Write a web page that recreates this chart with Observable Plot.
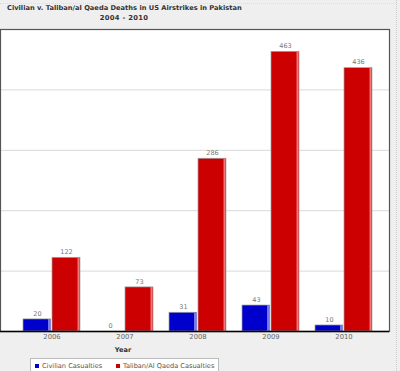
<!DOCTYPE html>
<html><head><meta charset="utf-8">
<script src="https://cdn.jsdelivr.net/npm/d3@7"></script>
<script src="https://cdn.jsdelivr.net/npm/@observablehq/plot@0.6"></script>
<style>
body{margin:0;background:#efefef;font-family:"DejaVu Sans",Verdana,sans-serif}
#wrap{position:relative;width:400px;height:371px;overflow:hidden;background:#efefef}
#wrap svg{position:absolute;left:0;top:0}
.t{position:absolute;white-space:nowrap;color:#333;font-weight:bold}
#title{left:7px;top:4px;font-size:6.7px}
#sub{left:0;width:248px;text-align:center;top:14px;font-size:6.8px;letter-spacing:0.3px}
#xlab{left:0;width:246px;text-align:center;top:346px;font-size:6.6px}
#legend{position:absolute;left:30px;top:358px;width:187px;height:20px;background:#fff;border:1px solid #bbb;font-size:6.6px;color:#555;white-space:nowrap}
#legend span.sw{display:inline-block;width:4px;height:4px;margin:0 3px 0 4px;vertical-align:0px}
#legend span.it{position:absolute;top:3px}
#dots{position:absolute;left:396px;top:0;width:0;height:371px;border-left:1px dotted #ccc}
#dotsT{position:absolute;left:0;top:3px;width:396px;height:0;border-top:1px dotted #ddd}
</style></head>
<body><div id="wrap"></div>
<script>
const years = ["2006","2007","2008","2009","2010"];
const civilian = [20, 0, 31, 43, 10];
const taliban = [122, 73, 286, 463, 436];
const gridValues = [100, 200, 300, 400, 500];
const seriesNames = ["Civilian Casualties", "Taliban/Al Qaeda Casualties"];
const seriesColors = ["#0000cc", "#cc0000"];
const titleText = "Civilian v. Taliban/al Qaeda Deaths in US Airstrikes in Pakistan";
const subtitleText = "2004 - 2010";
const xLabel = "Year";

const civData = years.map((y, i) => ({year: y, value: civilian[i]}));
const talData = years.map((y, i) => ({year: y, value: taliban[i]}));

const plot = Plot.plot({
  width: 400, height: 371,
  marginTop: 29, marginBottom: 40, marginLeft: 0, marginRight: 11,
  style: {background: "transparent", fontFamily: "DejaVu Sans, Verdana, sans-serif"},
  x: {type: "band", domain: years, paddingInner: 0.224, paddingOuter: 0.258, align: 0.579, axis: null},
  y: {domain: [0, 500], axis: null},
  marks: [
    Plot.frame({fill: "white", stroke: "none"}),
    Plot.ruleY(gridValues, {stroke: "#d9d9d9", strokeWidth: 1}),
    Plot.barY(civData, {x: "year", y: "value", fill: seriesColors[0], insetRight: 29.5, stroke: "#a0a0a0", strokeWidth: 0.7}),
    Plot.barY(civData, {x: "year", y: "value", fill: "#7777ee", insetLeft: 25, insetRight: 29.5}),
    Plot.barY(talData, {x: "year", y: "value", fill: seriesColors[1], insetLeft: 29, stroke: "#a0a0a0", strokeWidth: 0.7}),
    Plot.barY(talData, {x: "year", y: "value", fill: "#ee7777", insetLeft: 54.5, insetRight: 0.5}),
    Plot.frame({stroke: "#555", strokeWidth: 1.2}),
    Plot.ruleY([0], {stroke: "#000", strokeWidth: 1.5}),
    Plot.text(civData, {x: "year", y: "value", text: d => String(d.value), dx: -14.5, dy: -6, fill: "#777", fontSize: 6.5}),
    Plot.text(talData, {x: "year", y: "value", text: d => String(d.value), dx: 14.5, dy: -6, fill: "#777", fontSize: 6.5}),
    Plot.text(years, {x: d => d, frameAnchor: "bottom", dy: 7.5, fill: "#666", fontSize: 6.8})
  ]
});

const wrap = document.getElementById("wrap");
wrap.appendChild(plot);
const add = (id, cls, txt) => { const d = document.createElement("div"); d.id = id; if (cls) d.className = cls; if (txt) d.textContent = txt; wrap.appendChild(d); return d; };
add("dotsT"); add("dots");
add("title", "t", titleText);
add("sub", "t", subtitleText);
add("xlab", "t", xLabel);
const lg = add("legend");
const lefts = [0, 81];
seriesNames.forEach((n, i) => {
  const it = document.createElement("span"); it.className = "it"; it.style.left = lefts[i] + "px";
  const sw = document.createElement("span"); sw.className = "sw"; sw.style.background = seriesColors[i];
  it.appendChild(sw); it.appendChild(document.createTextNode(n)); lg.appendChild(it);
});
</script></body></html>
